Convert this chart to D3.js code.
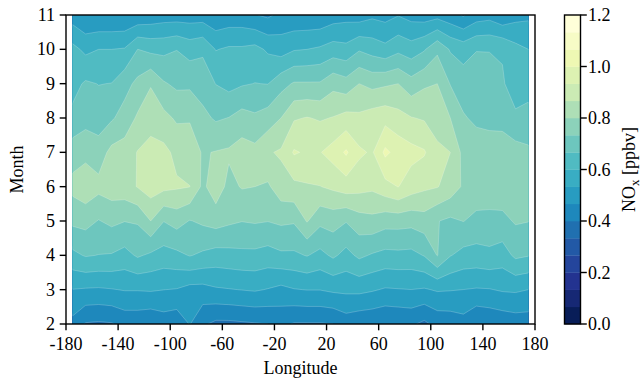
<!DOCTYPE html>
<html><head><meta charset="utf-8">
<script src="https://cdn.jsdelivr.net/npm/d3@7"></script>
<style>body{margin:0;background:#fff}svg{display:block}text{font-family:"Liberation Serif","Times New Roman",serif;fill:#000}</style>
</head><body><svg id="c" width="644" height="382"></svg>
<script>
// longitude of each grid column, month of each grid row
const lons = [-175,-165,-155,-145,-135,-125,-115,-105,-95,-85,-75,-65,-55,-45,-35,-25,-15,-5,5,15,25,35,45,55,65,75,85,95,105,115,125,135,145,155,165,175];
const months = [2,3,4,5,6,7,8,9,10,11];
// NOx [ppbv], one row per month, one value per longitude
const m2  = [0.447,0.395,0.39,0.395,0.42,0.42,0.41,0.43,0.42,0.47,0.41,0.385,0.385,0.39,0.395,0.40,0.415,0.395, 0.395,0.395,0.40,0.43,0.415,0.41,0.40,0.405,0.41,0.385,0.42,0.425,0.44,0.40,0.41,0.42,0.43,0.43];
const m3  = [0.532,0.527,0.525,0.53,0.537,0.537,0.54,0.534,0.53,0.51,0.51,0.525,0.53,0.535,0.54,0.53,0.515,0.53, 0.535,0.535,0.545,0.548,0.55,0.54,0.527,0.53,0.533,0.527,0.54,0.537,0.533,0.528,0.53,0.54,0.543,0.533];
const m4  = [0.65,0.672,0.665,0.662,0.645,0.675,0.655,0.64,0.65,0.67,0.655,0.64,0.645,0.65,0.65,0.64,0.655,0.655, 0.67,0.647,0.678,0.645,0.68,0.66,0.647,0.65,0.647,0.67,0.736,0.67,0.645,0.642,0.65,0.635,0.68,0.67];
const m5  = [0.748,0.755,0.73,0.748,0.735,0.74,0.80,0.735,0.76,0.73,0.745,0.76,0.745,0.735,0.74,0.735,0.745,0.74, 0.805,0.75,0.76,0.737,0.77,0.78,0.76,0.76,0.755,0.77,0.736,0.72,0.735,0.715,0.715,0.715,0.74,0.735];
const m6  = [0.82,0.845,0.82,0.835,0.84,0.87,0.90,0.885,0.875,0.868,0.785,0.84,0.78,0.805,0.80,0.79,0.84,0.85, 0.86,0.865,0.88,0.90,0.89,0.88,0.91,0.935,0.90,0.88,0.87,0.84,0.79,0.775,0.77,0.775,0.78,0.765];
const m7  = [0.77,0.78,0.765,0.82,0.83,0.87,0.89,0.885,0.85,0.83,0.795,0.803,0.81,0.83,0.82,0.86,0.875,0.94, 0.925,0.93,0.96,1.01,0.945,0.925,1.015,0.975,0.955,0.94,0.88,0.867,0.78,0.77,0.765,0.77,0.76,0.745];
const m8  = [0.683,0.71,0.70,0.725,0.76,0.81,0.84,0.82,0.79,0.795,0.75,0.725,0.735,0.76,0.745,0.765,0.80,0.86, 0.87,0.86,0.87,0.89,0.88,0.90,0.91,0.89,0.87,0.86,0.84,0.80,0.74,0.72,0.715,0.71,0.68,0.69];
const m9  = [0.645,0.675,0.665,0.668,0.71,0.75,0.795,0.74,0.72,0.72,0.705,0.665,0.645,0.66,0.668,0.665,0.71,0.74, 0.74,0.74,0.78,0.76,0.80,0.78,0.79,0.80,0.76,0.79,0.80,0.73,0.70,0.69,0.685,0.675,0.63,0.64];
const m10 = [0.62,0.585,0.60,0.60,0.605,0.667,0.65,0.65,0.665,0.64,0.655,0.597,0.61,0.61,0.62,0.59,0.57,0.595, 0.60,0.61,0.63,0.62,0.66,0.64,0.62,0.65,0.63,0.66,0.72,0.66,0.64,0.665,0.665,0.66,0.62,0.60];
const m11 = [0.50,0.47,0.47,0.47,0.47,0.48,0.49,0.50,0.50,0.50,0.50,0.48,0.49,0.49,0.47,0.455,0.485,0.48, 0.48,0.48,0.50,0.51,0.50,0.52,0.51,0.53,0.51,0.50,0.51,0.49,0.46,0.50,0.51,0.48,0.51,0.52];
const rows = [m2,m3,m4,m5,m6,m7,m8,m9,m10,m11];

const xTicks = [-180,-140,-100,-60,-20,20,60,100,140,180];
const yTicks = [2,3,4,5,6,7,8,9,10,11];
const cbTicks = [0.0,0.2,0.4,0.6,0.8,1.0,1.2];
const levelMin = 0, levelMax = 1.2, nBands = 18;
const ylgnbu = ["#ffffd9","#edf8b1","#c7e9b4","#7fcdbb","#41b6c4","#1d91c0","#225ea8","#253494","#081d58"];

const levels = d3.range(nBands + 1).map(i => levelMin + (levelMax - levelMin) * i / nBands);
const cmap = d3.piecewise(d3.interpolateRgb, ylgnbu);
const bandColor = k => cmap(1 - k / (nBands - 1));

const svg = d3.select("#c");
const L = 66, R = 535, T = 15, B = 324;
const x = d3.scaleLinear([-180, 180], [L, R]);
const y = d3.scaleLinear([2, 11], [B, T]);

const nx = lons.length, ny = months.length;
const flat = [];
rows.forEach(r => r.forEach(v => flat.push(v)));
const dLon = lons[1] - lons[0], dMon = months[1] - months[0];
const proj = d3.geoTransform({
  point(cx, cy) {
    this.stream.point(x(lons[0] + (cx - 0.5) * dLon), y(months[0] + (cy - 0.5) * dMon));
  }
});
const path = d3.geoPath(proj);
const contours = d3.contours().size([nx, ny]).thresholds(levels.slice(0, -1))(flat);

svg.append("defs").append("clipPath").attr("id", "clip")
  .append("rect")
  .attr("x", x(lons[0])).attr("y", y(months[ny - 1]))
  .attr("width", x(lons[nx - 1]) - x(lons[0]))
  .attr("height", y(months[0]) - y(months[ny - 1]));

const g = svg.append("g").attr("clip-path", "url(#clip)");
g.selectAll("path").data(contours).join("path")
  .attr("d", path)
  .attr("fill", (d, i) => bandColor(i))
  .attr("stroke", "rgba(255,255,255,0.35)")
  .attr("stroke-width", 0.6);

// axes frame
svg.append("rect").attr("x", L).attr("y", T).attr("width", R - L).attr("height", B - T)
  .attr("fill", "none").attr("stroke", "#000").attr("stroke-width", 1.4);

const tickLen = 6.3, fs = 18;
const xa = svg.append("g");
xTicks.forEach(t => {
  xa.append("line").attr("x1", x(t)).attr("x2", x(t)).attr("y1", B).attr("y2", B + tickLen)
    .attr("stroke", "#000").attr("stroke-width", 1.4);
  xa.append("text").attr("x", x(t)).attr("y", 350).attr("text-anchor", "middle")
    .style("font-size", fs + "px").text(String(t));
});
const ya = svg.append("g");
yTicks.forEach(t => {
  ya.append("line").attr("x1", L - tickLen).attr("x2", L).attr("y1", y(t)).attr("y2", y(t))
    .attr("stroke", "#000").attr("stroke-width", 1.4);
  ya.append("text").attr("x", 55).attr("y", y(t)).attr("dy", "0.34em").attr("text-anchor", "end")
    .style("font-size", fs + "px").text(String(t));
});
svg.append("text").attr("x", (L + R) / 2).attr("y", 374).attr("text-anchor", "middle")
  .style("font-size", fs + "px").text("Longitude");
svg.append("text").attr("transform", `translate(23,${(T + B) / 2}) rotate(-90)`)
  .attr("text-anchor", "middle").style("font-size", fs + "px").text("Month");

// colorbar
const cbL = 564.5, cbW = 16;
const cy = d3.scaleLinear([levelMin, levelMax], [B, T]);
const cb = svg.append("g");
d3.range(nBands).forEach(k => {
  cb.append("rect").attr("x", cbL).attr("width", cbW)
    .attr("y", cy(levels[k + 1])).attr("height", cy(levels[k]) - cy(levels[k + 1]) + 0.3)
    .attr("fill", bandColor(k));
});
cb.append("rect").attr("x", cbL).attr("y", T).attr("width", cbW).attr("height", B - T)
  .attr("fill", "none").attr("stroke", "#000").attr("stroke-width", 1.4);
cbTicks.forEach(t => {
  cb.append("line").attr("x1", cbL + cbW).attr("x2", cbL + cbW + tickLen).attr("y1", cy(t)).attr("y2", cy(t))
    .attr("stroke", "#000").attr("stroke-width", 1.4);
  cb.append("text").attr("x", 588).attr("y", cy(t)).attr("dy", "0.34em")
    .style("font-size", fs + "px").text(t.toFixed(1));
});
const lab = svg.append("text").attr("transform", `translate(635,${(T + B) / 2}) rotate(-90)`)
  .attr("text-anchor", "middle").style("font-size", fs + "px");
lab.append("tspan").text("NO");
lab.append("tspan").attr("dy", 4).style("font-size", "13px").text("x");
lab.append("tspan").attr("dy", -4).text(" [ppbv]");
</script></body></html>
